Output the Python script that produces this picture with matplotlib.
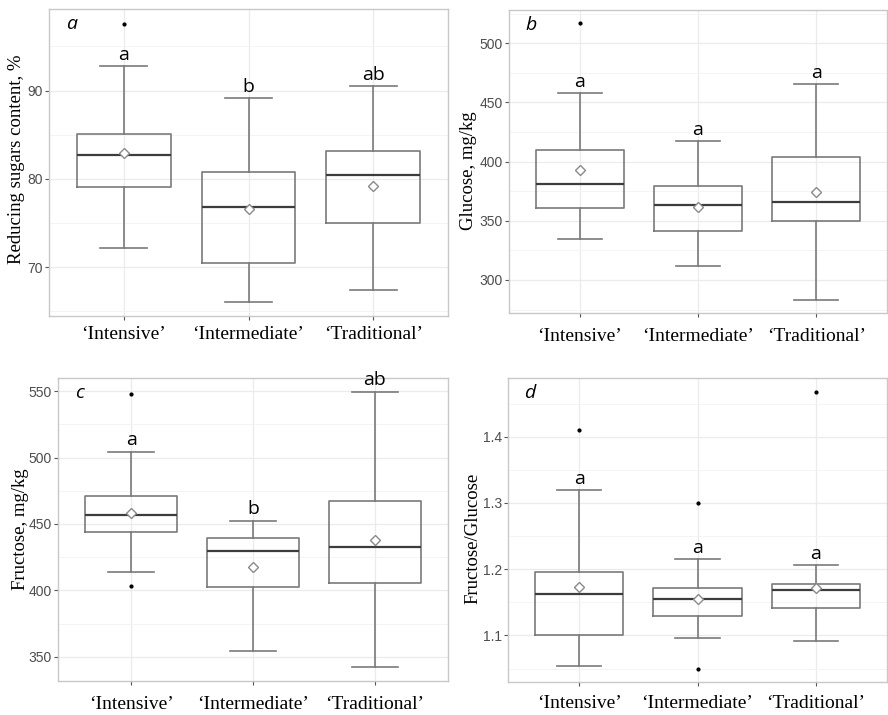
import numpy as np
import matplotlib.pyplot as plt
from matplotlib.ticker import MultipleLocator

groups = ["\u2018Intensive\u2019", "\u2018Intermediate\u2019", "\u2018Traditional\u2019"]

# panel a - reducing sugars, %
sug_lo = [72.2, 66.0, 67.4]
sug_q1 = [79.1, 70.5, 75.0]
sug_med = [82.7, 76.8, 80.4]
sug_q3 = [85.1, 80.8, 83.1]
sug_hi = [92.8, 89.2, 90.5]
sug_mean = [82.9, 76.6, 79.2]
sug_out = [[97.6], [], []]
sug_letters = ["a", "b", "ab"]

# panel b - glucose, mg/kg
glu_lo = [335.0, 312.2, 283.2]
glu_q1 = [360.9, 341.5, 350.0]
glu_med = [381.4, 363.2, 366.0]
glu_q3 = [409.6, 379.7, 403.7]
glu_hi = [457.8, 417.2, 465.9]
glu_mean = [392.7, 361.5, 374.4]
glu_out = [[516.9], [], []]
glu_letters = ["a", "a", "a"]

# panel c - fructose, mg/kg
fru_lo = [413.7, 354.4, 341.9]
fru_q1 = [444.0, 402.4, 405.4]
fru_med = [457.1, 430.0, 432.5]
fru_q3 = [471.2, 439.1, 467.0]
fru_hi = [504.6, 452.6, 549.8]
fru_mean = [458.1, 417.5, 437.8]
fru_out = [[548.3, 403.5], [], []]
fru_letters = ["a", "b", "ab"]

# panel d - fructose/glucose
rat_lo = [1.054, 1.096, 1.092]
rat_q1 = [1.101, 1.129, 1.141]
rat_med = [1.163, 1.155, 1.168]
rat_q3 = [1.196, 1.171, 1.178]
rat_hi = [1.320, 1.215, 1.206]
rat_mean = [1.173, 1.155, 1.171]
rat_out = [[1.410], [1.300, 1.050], [1.468]]
rat_letters = ["a", "a", "a"]


def make_stats(lo, q1, med, q3, hi, mean, out):
    stats = []
    for i in range(len(groups)):
        stats.append(dict(whislo=lo[i], q1=q1[i], med=med[i], q3=q3[i],
                          whishi=hi[i], mean=mean[i], fliers=out[i]))
    return stats


def draw_panel(ax, stats, letters, tag, ylabel, ylim, major, ylab_pos, xpad=6):
    ax.bxp(stats, positions=[1, 2, 3], widths=0.75, capwidths=0.375,
           showmeans=True, patch_artist=False,
           boxprops=dict(color='#7a7a7a', linewidth=1.2),
           whiskerprops=dict(color='#7a7a7a', linewidth=1.2),
           capprops=dict(color='#7a7a7a', linewidth=1.2),
           medianprops=dict(color='#3c3c3c', linewidth=1.6),
           meanprops=dict(marker='D', markerfacecolor='white',
                          markeredgecolor='#8a8a8a', markersize=5.5,
                          markeredgewidth=1.0),
           flierprops=dict(marker='o', markerfacecolor='black',
                           markeredgecolor='black', markersize=2))
    ax.set_xlim(0.4, 3.6)
    ax.set_ylim(*ylim)
    ax.yaxis.set_major_locator(MultipleLocator(major))
    ax.yaxis.set_minor_locator(MultipleLocator(major / 2))
    ax.set_axisbelow(True)
    ax.grid(True, which='major', color='#ebebeb', linewidth=0.9)
    ax.grid(True, which='minor', axis='y', color='#f3f3f3', linewidth=0.6)
    ax.tick_params(which='minor', length=0)
    ax.tick_params(which='major', length=3, color='#555555', width=0.8)
    ax.tick_params(axis='y', labelsize=10, labelcolor='#4d4d4d', pad=1.5)
    ax.tick_params(axis='x', pad=xpad)
    ax.set_xticks([1, 2, 3])
    ax.set_xticklabels(groups, family='Liberation Serif', fontsize=14)
    for lab in ax.get_yticklabels():
        lab.set_family('Liberation Sans')
    for sp in ax.spines.values():
        sp.set_color('#c8c8c8')
        sp.set_linewidth(1.0)
    for i, s in enumerate(stats):
        ax.annotate(letters[i], (i + 1, s['whishi']), xytext=(0, 1.5),
                    textcoords='offset points', ha='center', va='bottom',
                    family='Open Sans', fontsize=14)
    ax.text(0.043, 0.952, tag, transform=ax.transAxes, ha='left',
            va='center', family='Open Sans', style='italic', fontsize=14)
    ax.set_ylabel(ylabel, family='Liberation Serif', fontsize=13.5)
    ax.yaxis.set_label_coords(*ylab_pos)


W, H = 888, 715
fig = plt.figure(figsize=(W / 100, H / 100), dpi=100)


def add_ax(left, right, top, bottom):
    return fig.add_axes([left / W, 1 - bottom / H, (right - left) / W, (bottom - top) / H])


ax_a = add_ax(49, 448, 9, 316)
ax_b = add_ax(509, 887, 10, 313)
ax_c = add_ax(58, 448, 378, 681)
ax_d = add_ax(508, 887, 378, 682)

draw_panel(ax_a, make_stats(sug_lo, sug_q1, sug_med, sug_q3, sug_hi, sug_mean, sug_out),
           sug_letters, 'a', 'Reducing sugars content, %', (64.45, 99.25), 10, (-0.06, 0.51),
           xpad=4)
draw_panel(ax_b, make_stats(glu_lo, glu_q1, glu_med, glu_q3, glu_hi, glu_mean, glu_out),
           glu_letters, 'b', 'Glucose, mg/kg', (272.1, 528.1), 50, (-0.085, 0.47),
           xpad=7.5)
draw_panel(ax_c, make_stats(fru_lo, fru_q1, fru_med, fru_q3, fru_hi, fru_mean, fru_out),
           fru_letters, 'c', 'Fructose, mg/kg', (331.7, 560.0), 50, (-0.075, 0.5),
           xpad=7.5)
draw_panel(ax_d, make_stats(rat_lo, rat_q1, rat_med, rat_q3, rat_hi, rat_mean, rat_out),
           rat_letters, 'd', 'Fructose/Glucose', (1.0297, 1.4885), 0.1, (-0.069, 0.474),
           xpad=6.5)

fig.savefig('out.png', dpi=100)
